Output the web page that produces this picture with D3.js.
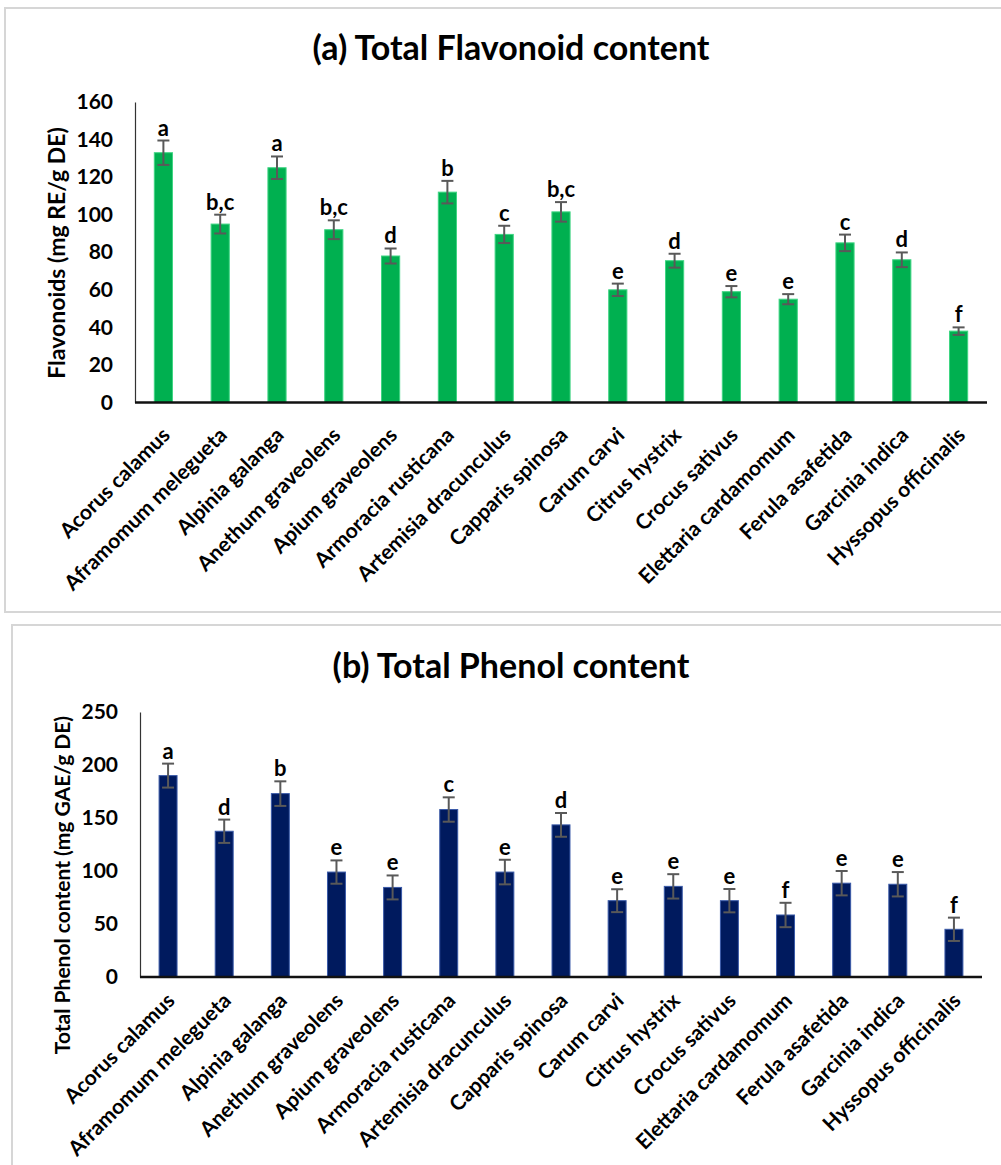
<!DOCTYPE html>
<html>
<head>
<meta charset="utf-8">
<script src="https://cdn.jsdelivr.net/npm/d3@7"></script>
<style>
  html, body { margin: 0; padding: 0; background: #ffffff; }
  svg { display: block; }
  text { font-family: Lato, "Open Sans", sans-serif; fill: #000; }
</style>
</head>
<body>
<svg id="chart" width="1001" height="1165"></svg>
<script>
// ---------------- DATA ----------------
const species = [
  "Acorus calamus", "Aframomum melegueta", "Alpinia galanga", "Anethum graveolens",
  "Apium graveolens", "Armoracia rusticana", "Artemisia dracunculus", "Capparis spinosa",
  "Carum carvi", "Citrus hystrix", "Crocus sativus", "Elettaria cardamomum",
  "Ferula asafetida", "Garcinia indica", "Hyssopus officinalis"
];

const flavonoidValues = [133, 95, 125, 92, 78, 112, 89.5, 101.5, 60, 75.5, 59, 55, 85, 76, 38];
const flavonoidErrors = [6.5, 5, 6, 5, 4, 6, 4.6, 5.2, 3.3, 3.7, 3, 2.7, 4.4, 3.9, 2];
const flavonoidLetters = ["a", "b,c", "a", "b,c", "d", "b", "c", "b,c", "e", "d", "e", "e", "c", "d", "f"];
const flavonoidTicks = [0, 20, 40, 60, 80, 100, 120, 140, 160];

const phenolValues = [190, 137.5, 173, 99, 84.5, 158, 99, 143.5, 72, 85.5, 72, 58.5, 88.5, 87.5, 45];
const phenolErrors = [11.3, 11, 11.6, 11, 11.3, 11.5, 11.6, 11.2, 10.8, 11.5, 11, 11.5, 11.5, 11.5, 11];
const phenolLetters = ["a", "d", "b", "e", "e", "c", "e", "d", "e", "e", "e", "f", "e", "e", "f"];
const phenolTicks = [0, 50, 100, 150, 200, 250];

// ---------------- DRAW ----------------
const svg = d3.select("#chart");

function drawPanel(cfg) {
  const g = svg.append("g");

  // panel frame
  g.append("rect")
    .attr("x", cfg.frame[0]).attr("y", cfg.frame[1])
    .attr("width", cfg.frame[2]).attr("height", cfg.frame[3])
    .attr("fill", "#fff").attr("stroke", "#d6d6d6").attr("stroke-width", 2);

  // title
  g.append("text")
    .attr("x", cfg.titleX).attr("y", cfg.titleY)
    .attr("text-anchor", "middle")
    .style("font-size", "34px").style("font-weight", 700)
    .text(cfg.title);

  const x = d3.scaleBand().domain(species).range([cfg.left, cfg.right]).paddingInner(0.68).paddingOuter(0.34);
  const y = d3.scaleLinear().domain([cfg.ticks[0], cfg.ticks[cfg.ticks.length - 1]]).range([cfg.bottom, cfg.top]);

  // y axis
  const yAxis = g.append("g").attr("transform", `translate(${cfg.left},0)`)
    .call(d3.axisLeft(y).tickValues(cfg.ticks).tickSize(0).tickPadding(cfg.tickPad));
  yAxis.select(".domain").attr("stroke", "#333").attr("stroke-width", 1.2);
  yAxis.selectAll("text").style("font-size", "21px").style("font-weight", 700)
    .style("font-family", "Lato, sans-serif").attr("fill", "#000");

  // y title
  g.append("text")
    .attr("transform", `translate(${cfg.yTitleX},${cfg.yTitleY}) rotate(-90)`)
    .attr("text-anchor", "middle")
    .style("font-size", cfg.yTitleSize).style("font-weight", 700)
    .text(cfg.yTitle);

  // bars
  g.selectAll("rect.bar").data(cfg.values).join("rect")
    .attr("class", "bar")
    .attr("x", (d, i) => x(species[i]))
    .attr("width", x.bandwidth())
    .attr("y", d => y(d))
    .attr("height", d => y(0) - y(d))
    .attr("fill", cfg.color)
    .attr("stroke", cfg.edge).attr("stroke-width", 1);

  // error bars
  const cap = 6;
  const eb = g.selectAll("g.err").data(cfg.values).join("g").attr("class", "err")
    .attr("stroke", "#595959").attr("stroke-width", 2);
  eb.append("line")
    .attr("x1", (d, i) => x(species[i]) + x.bandwidth() / 2)
    .attr("x2", (d, i) => x(species[i]) + x.bandwidth() / 2)
    .attr("y1", (d, i) => y(d + cfg.errors[i]))
    .attr("y2", (d, i) => y(d - cfg.errors[i]));
  eb.append("line")
    .attr("x1", (d, i) => x(species[i]) + x.bandwidth() / 2 - cap)
    .attr("x2", (d, i) => x(species[i]) + x.bandwidth() / 2 + cap)
    .attr("y1", (d, i) => y(d + cfg.errors[i]))
    .attr("y2", (d, i) => y(d + cfg.errors[i]));
  eb.append("line")
    .attr("x1", (d, i) => x(species[i]) + x.bandwidth() / 2 - cap)
    .attr("x2", (d, i) => x(species[i]) + x.bandwidth() / 2 + cap)
    .attr("y1", (d, i) => y(d - cfg.errors[i]))
    .attr("y2", (d, i) => y(d - cfg.errors[i]));

  // significance letters
  g.selectAll("text.sig").data(cfg.values).join("text")
    .attr("class", "sig")
    .attr("x", (d, i) => x(species[i]) + x.bandwidth() / 2)
    .attr("y", (d, i) => y(d + cfg.errors[i]) - 5)
    .attr("text-anchor", "middle")
    .style("font-size", "22px").style("font-weight", 700)
    .text((d, i) => cfg.letters[i]);

  // x axis baseline
  g.append("line")
    .attr("x1", cfg.left).attr("x2", cfg.right)
    .attr("y1", y(0)).attr("y2", y(0))
    .attr("stroke", "#111").attr("stroke-width", 2.3);

  // x labels
  g.selectAll("text.xl").data(species).join("text")
    .attr("class", "xl")
    .attr("transform", d => `translate(${x(d) + x.bandwidth() / 2 + 8},${y(0) + cfg.labelGap}) rotate(-45)`)
    .attr("text-anchor", "end")
    .style("font-size", "21px").style("font-weight", 700)
    .text(d => d);
}

drawPanel({
  frame: [5, 8, 1020, 604],
  title: "(a) Total Flavonoid content", titleX: 511, titleY: 60,
  left: 135, right: 987, top: 102, bottom: 402.5,
  ticks: flavonoidTicks, tickPad: 22,
  yTitle: "Flavonoids (mg RE/g DE)", yTitleX: 65, yTitleY: 253, yTitleSize: "23px",
  values: flavonoidValues, errors: flavonoidErrors, letters: flavonoidLetters,
  color: "#00b050", edge: "#3fd583", labelGap: 34
});

drawPanel({
  frame: [12, 625, 1020, 620],
  title: "(b) Total Phenol content", titleX: 511, titleY: 678,
  left: 140, right: 982, top: 712, bottom: 977,
  ticks: phenolTicks, tickPad: 22,
  yTitle: "Total Phenol content (mg GAE/g DE)", yTitleX: 70, yTitleY: 885, yTitleSize: "21px",
  values: phenolValues, errors: phenolErrors, letters: phenolLetters,
  color: "#001a5e", edge: "#3a5aa8", labelGap: 25
});
</script>
</body>
</html>
